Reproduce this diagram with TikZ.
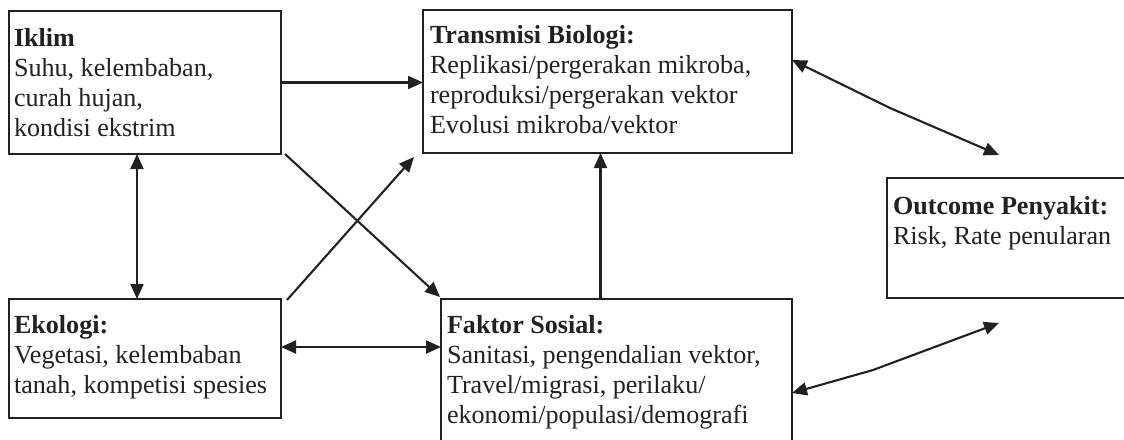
\documentclass[tikz,border=0pt]{standalone}
\usepackage{fontspec}
\setmainfont{Liberation Serif}
\usetikzlibrary{arrows.meta}
\definecolor{ink}{gray}{0.13}
\begin{document}
\begin{tikzpicture}[x=1pt,y=-1pt,
  box/.style={draw=ink, line width=2.1pt, rectangle, inner sep=0pt, outer sep=0pt, anchor=north west},
  txt/.style={anchor=north west, inner sep=0pt, outer sep=0pt, align=left, text=ink,
              font=\fontsize{26.1}{30}\selectfont},
  tip/.tip={Triangle[length=15pt,width=13pt]},
  link/.style={draw=ink, line width=2.1pt, -tip},
  both/.style={draw=ink, line width=2.1pt, tip-tip}
]
\useasboundingbox (0,0) rectangle (1124,439);
\clip (0,0) rectangle (1124,439);

% boxes
\node[box, minimum width=272pt, minimum height=143pt] (iklim)  at (9,11)   {};
\node[box, minimum width=369pt, minimum height=143pt] (trans)  at (423,10) {};
\node[box, minimum width=250pt, minimum height=120pt] (outc)   at (887,178) {};
\node[box, minimum width=272pt, minimum height=119pt] (ekol)   at (9,299)  {};
\node[box, minimum width=351pt, minimum height=160pt] (faktor) at (441,299) {};

% box texts
\node[txt] (tiklim) at ([shift={(5,17)}]iklim.north west)
  {\textbf{Iklim}\\Suhu, kelembaban,\\curah hujan,\\kondisi ekstrim};
\node[txt] (ttrans) at ([shift={(7,15)}]trans.north west)
  {\textbf{Transmisi Biologi:}\\Replikasi/pergerakan mikroba,\\reproduksi/pergerakan vektor\\Evolusi mikroba/vektor};
\node[txt] (toutc) at ([shift={(6,18)}]outc.north west)
  {\textbf{Outcome Penyakit:}\\Risk, Rate penularan};
\node[txt] (tekol) at ([shift={(5,16)}]ekol.north west)
  {\textbf{Ekologi:}\\Vegetasi, kelembaban\\tanah, kompetisi spesies};
\node[txt] (tfaktor) at ([shift={(6,16)}]faktor.north west)
  {\textbf{Faktor Sosial:}\\Sanitasi, pengendalian vektor,\\Travel/migrasi, perilaku/\\ekonomi/populasi/demografi};

% connectors
\draw[link] (iklim.east) -- (iklim.east -| trans.west);
\draw[both] ([xshift=-8pt]iklim.south) -- ([xshift=-8pt]ekol.north);
\draw[link] ([shift={(4,0)}]iklim.south east) -- ([shift={(-1,-2)}]faktor.north west);
\draw[link] ([shift={(6,1)}]ekol.north east) -- ([shift={(-9,4)}]trans.south west);
\coordinate (ef) at ([shift={(0,48)}]ekol.north east);
\draw[both] (ef) -- (ef -| faktor.west);
\draw[link] ([xshift=-16pt]faktor.north) -- ([xshift=-16pt]faktor.north |- trans.south);
\coordinate (to) at ([shift={(112,-23)}]outc.north west);
\coordinate (fo) at ([shift={(112,25)}]outc.south west);
\draw[both] ([shift={(0,50)}]trans.north east) -- (890,108) -- (to);
\draw[both] ([shift={(0,94)}]faktor.north east) -- (873,370) -- (fo);
\end{tikzpicture}
\end{document}
